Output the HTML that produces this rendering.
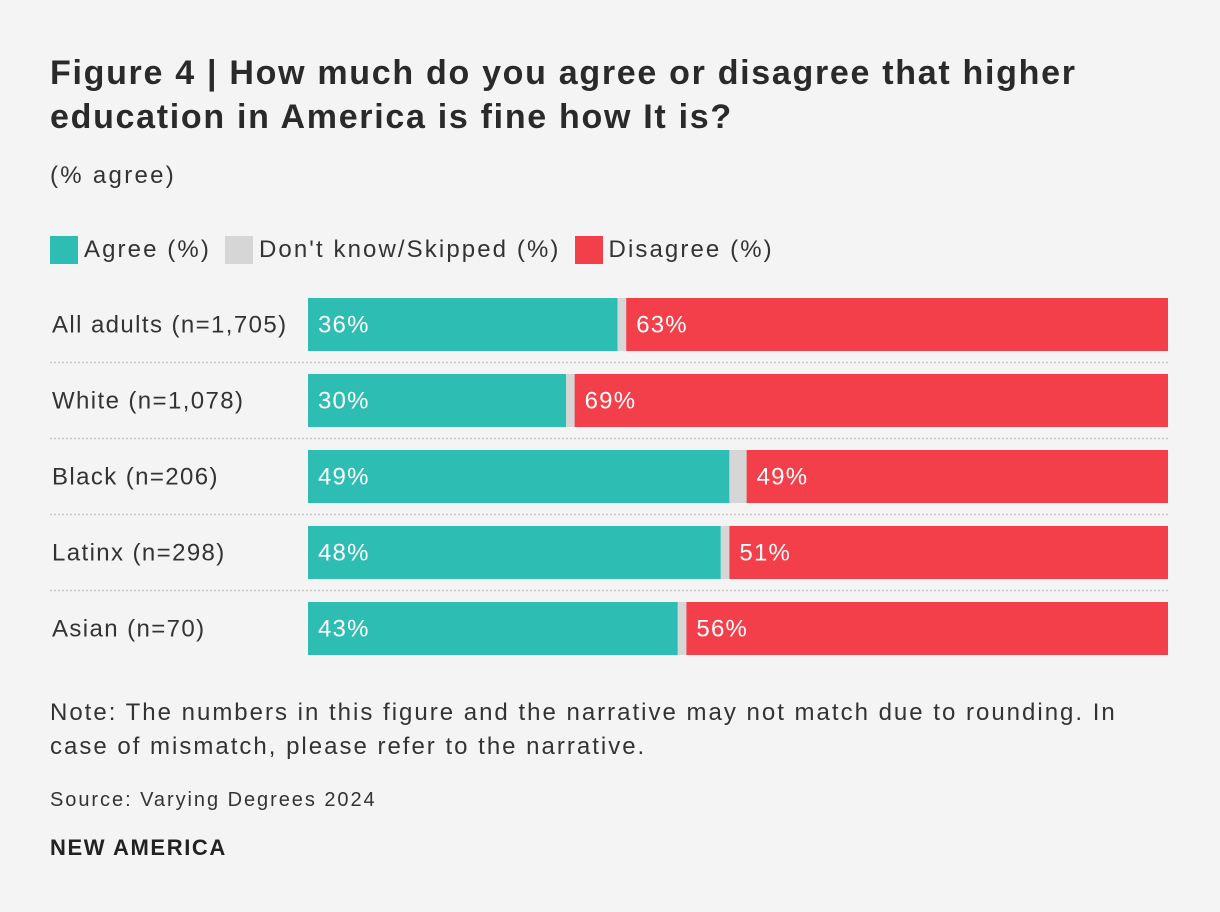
<!DOCTYPE html>
<html><head><meta charset="utf-8">
<style>
body{margin:0;background:#f4f4f4;font-family:"Liberation Sans",sans-serif;color:#333;}
#wrap{position:relative;width:1220px;height:912px;overflow:hidden;}
.t{position:absolute;left:50px;white-space:nowrap;}
</style></head><body>
<div id="wrap">
<div class="t" style="top:51px;font-size:34px;font-weight:bold;line-height:44px;color:#2a2a2a;letter-spacing:1.7px;">Figure 4 | How much do you agree or disagree that higher<br>education in America is fine how It is?</div>
<div class="t" style="top:162px;font-size:24px;letter-spacing:2.3px;color:#333;">(% agree)</div>
<div class="t" style="top:236px;font-size:24px;letter-spacing:2.1px;display:flex;align-items:center;">
<span style="display:flex;align-items:center;margin-right:14px;"><span style="width:28px;height:28px;background:#2ebdb3;margin-right:6px;display:inline-block"></span>Agree (%)</span>
<span style="display:flex;align-items:center;margin-right:14px;"><span style="width:28px;height:28px;background:#d6d6d6;margin-right:6px;display:inline-block"></span>Don't know/Skipped (%)</span>
<span style="display:flex;align-items:center;"><span style="width:28px;height:28px;background:#f33f4a;margin-right:6px;display:inline-block"></span>Disagree (%)</span>
</div>
<svg id="chart" width="1220" height="912" style="position:absolute;left:0;top:0"></svg>
<div class="t" style="top:696px;font-size:24px;letter-spacing:2.0px;line-height:34px;">Note: The numbers in this figure and the narrative may not match due to rounding. In<br>case of mismatch, please refer to the narrative.</div>
<div class="t" style="top:789px;font-size:20px;letter-spacing:1.95px;">Source: Varying Degrees 2024</div>
<div class="t" style="top:835px;font-size:22px;letter-spacing:1.6px;font-weight:bold;color:#222;">NEW AMERICA</div>
</div>
<script>
const categories=["All adults (n=1,705)","White (n=1,078)","Black (n=206)","Latinx (n=298)","Asian (n=70)"];
const agree=[36,30,49,48,43];
const dontKnow=[1,1,2,1,1];
const disagree=[63,69,49,51,56];
const NS="http://www.w3.org/2000/svg";
const svg=document.getElementById('chart');
const x0=308,x1=1168,top0=298,pitch=76,bh=53;
function mk(t,a){const e=document.createElementNS(NS,t);for(const k in a)e.setAttribute(k,a[k]);svg.appendChild(e);return e;}
categories.forEach((c,i)=>{
  const total=agree[i]+dontKnow[i]+disagree[i];
  const sx=v=>x0+(x1-x0)*v/total;
  const y=top0+i*pitch;
  const lab=mk('text',{x:52,y:y+bh/2+8,'font-size':24,'letter-spacing':1.4,fill:'#333'});lab.textContent=c;
  
  
  const segs=[[0,agree[i],'#2ebdb3','bar-agree'],[agree[i],agree[i]+dontKnow[i],'#d6d6d6','bar-dont-know'],[agree[i]+dontKnow[i],total,'#f33f4a','bar-disagree']];
  segs.forEach(s=>{
    const r=mk('rect',{x:sx(s[0]),y:y,width:sx(s[1])-sx(s[0]),height:bh,fill:s[2]});
    
    
  });
  const t1=mk('text',{x:sx(0)+10,y:y+bh/2+8,'font-size':24,'letter-spacing':1.2,fill:'#fff'});t1.textContent=agree[i]+'%';
  
  
  const t2=mk('text',{x:sx(agree[i]+dontKnow[i])+10,y:y+bh/2+8,'font-size':24,'letter-spacing':1.2,fill:'#fff'});t2.textContent=disagree[i]+'%';
  
  
  if(i<categories.length-1){
    const l=mk('line',{x1:50,x2:1168,y1:y+bh+11.5,y2:y+bh+11.5,stroke:'#c8c8c8','stroke-width':1.5,'stroke-dasharray':'2,2'});
    
    
  }
});
</script>
</body></html>
